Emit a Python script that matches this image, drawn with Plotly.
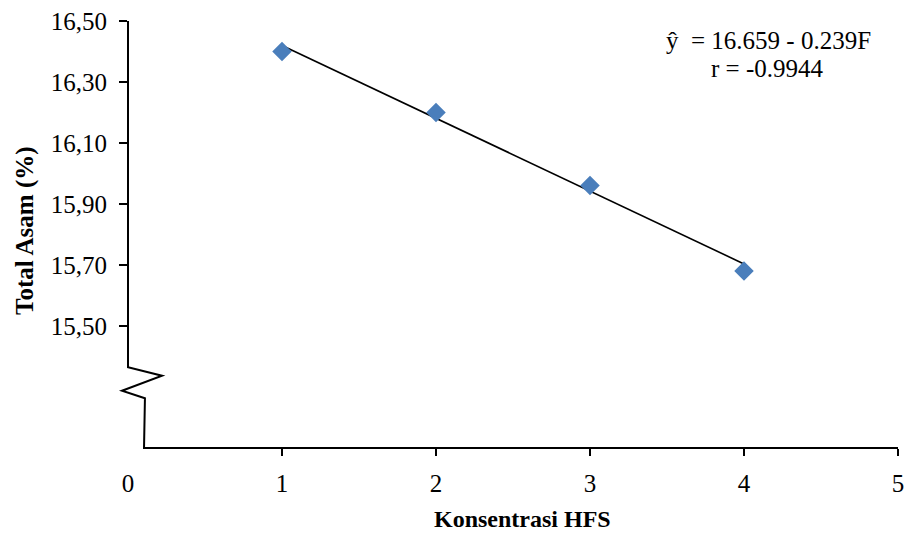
import plotly.graph_objects as go

# ---- data ----
konsentrasi = [1, 2, 3, 4]
total_asam = [16.40, 16.20, 15.96, 15.68]
intercept = 16.659
slope = -0.239
r_value = -0.9944
y_ticks = [15.50, 15.70, 15.90, 16.10, 16.30, 16.50]
y_tick_labels = ["15,50", "15,70", "15,90", "16,10", "16,30", "16,50"]
x_ticks = [1, 2, 3, 4, 5]

X_RANGE = [0, 5.0001]
Y_RANGE = [15.099, 16.5001]

FONT = "Liberation Serif, Times New Roman, serif"
TICK_SIZE = 25
TITLE_SIZE = 24

trend_x = [konsentrasi[0], konsentrasi[-1]]
trend_y = [intercept + slope * v for v in trend_x]

def px(v):
    return (v - X_RANGE[0]) / (X_RANGE[1] - X_RANGE[0])

def py(v):
    return (v - Y_RANGE[0]) / (Y_RANGE[1] - Y_RANGE[0])

fig = go.Figure()
fig.add_trace(go.Scatter(x=trend_x, y=trend_y, mode="lines",
                         line=dict(color="black", width=1.6), hoverinfo="skip",
                         showlegend=False))
fig.add_trace(go.Scatter(x=konsentrasi, y=total_asam, mode="markers",
                         marker=dict(symbol="diamond", size=15, color="#4A7EBB"),
                         showlegend=False))
fig.add_trace(go.Scatter(x=[0], y=[15.2], xaxis="x2", mode="markers",
                         marker=dict(opacity=0), hoverinfo="skip", showlegend=False))

# axis line with break (in data units, converted to paper)
brk = [(0, 16.5001), (0, 15.364), (0.221, 15.336), (-0.039, 15.287),
       (0.110, 15.262), (0.104, 15.099), (5.0001, 15.099)]
path = "M " + " L ".join(f"{px(a):.5f},{py(b):.5f}" for a, b in brk)
fig.add_shape(type="path", path=path, xref="paper", yref="paper",
              line=dict(color="black", width=2), layer="above")

fig.update_layout(
    width=905, height=533,
    margin=dict(l=128, r=7, t=21, b=85, autoexpand=False),
    plot_bgcolor="white", paper_bgcolor="white",
    font=dict(family=FONT, size=TICK_SIZE, color="black"),
    xaxis=dict(range=X_RANGE, tickvals=x_ticks, ticks="outside", ticklen=7,
               tickwidth=2, tickcolor="black", showline=False, showgrid=False,
               zeroline=False, ticklabelstandoff=6, automargin=False,
               tickfont=dict(size=TICK_SIZE)),
    xaxis2=dict(range=X_RANGE, overlaying="x", anchor="y", side="bottom",
                tickvals=[0], ticktext=["0"], ticks="outside", ticklen=7,
                tickwidth=2, tickcolor="rgba(0,0,0,0)", showline=False,
                showgrid=False, zeroline=False, ticklabelstandoff=6,
                automargin=False, tickfont=dict(size=TICK_SIZE)),
    yaxis=dict(range=Y_RANGE, tickvals=y_ticks, ticktext=y_tick_labels,
               ticks="outside", ticklen=8, tickwidth=2, tickcolor="black",
               showline=False, showgrid=False, zeroline=False,
               ticklabelstandoff=7, automargin=False, tickfont=dict(size=TICK_SIZE)),
    annotations=[
        dict(text="<b>Total Asam (%)</b>", xref="paper", yref="paper",
             x=(25 - 128) / 770, y=(448 - 231) / 427, textangle=-90,
             showarrow=False, font=dict(size=25), xanchor="center", yanchor="middle"),
        dict(text="<b>Konsentrasi HFS</b>", xref="paper", yref="paper",
             x=(522 - 128) / 770, y=(448 - 519) / 427, showarrow=False,
             font=dict(size=TITLE_SIZE), xanchor="center", yanchor="middle"),
        dict(text=f"ŷ\u00a0\u00a0= {intercept:.3f} - {abs(slope):.3f}F",
             xref="paper", yref="paper", x=(768 - 128) / 770, y=(448 - 40) / 427,
             showarrow=False, font=dict(size=TICK_SIZE),
             xanchor="center", yanchor="middle"),
        dict(text=f"r = {r_value:.4f}",
             xref="paper", yref="paper", x=(767 - 128) / 770, y=(448 - 68) / 427,
             showarrow=False, font=dict(size=TICK_SIZE),
             xanchor="center", yanchor="middle"),
    ],
)

fig.write_html("out.html", config={"displayModeBar": False},
               post_script="document.body.style.margin='0';")
